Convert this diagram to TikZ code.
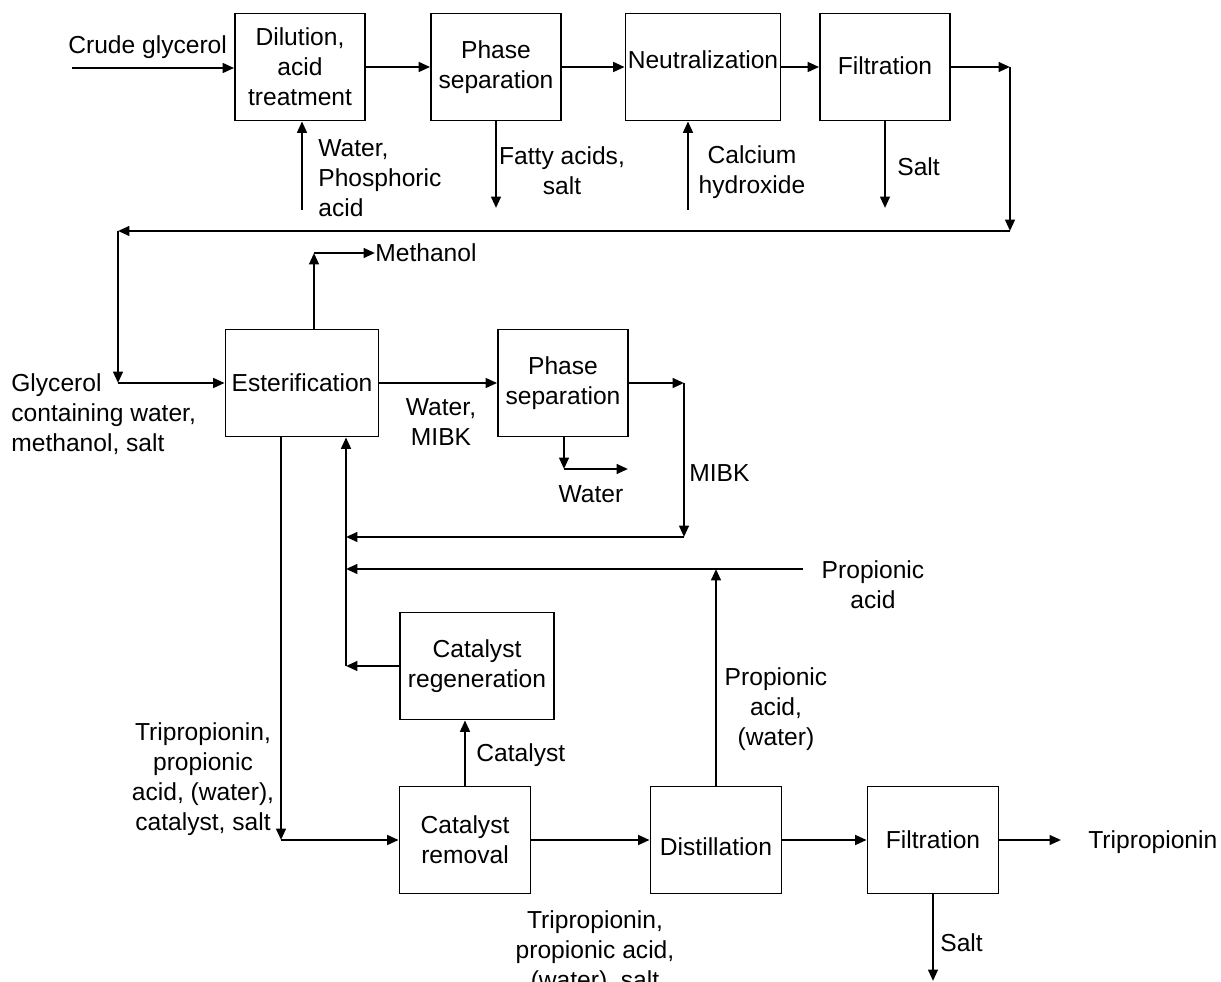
\documentclass[tikz,border=0pt]{standalone}
\usepackage{fontspec}
\setmainfont{Liberation Sans}
\usetikzlibrary{arrows.meta}

\tikzset{
  unit/.style={draw, line width=1pt, minimum height=2.14cm, inner sep=0pt,
    align=center, font=\fontsize{14}{17}\selectfont},
  txt/.style={align=center, inner sep=0pt, font=\fontsize{14}{17}\selectfont},
  flow/.style={->, line width=1.3pt},
}
% shift a box text up or down without changing its size
\newcommand{\lift}[2]{\raisebox{#1}[\height][\depth]{#2}}

\begin{document}
\begin{tikzpicture}[x=0.02cm, y=-0.02cm, >={Triangle[length=6.5pt,width=5.5pt]}]
  \useasboundingbox (0,0) rectangle (1221,982);

  % Pretreatment of the crude glycerol
  \node[unit, minimum width=2.6cm]  (dil)   at (300,67) {Dilution,\\acid\\treatment};
  \node[unit, minimum width=2.6cm]  (sepA)  at (496,67) {Phase\\separation};
  \node[unit, minimum width=3.1cm]  (neut)  at (703,67) {\lift{4pt}{Neutralization}};
  \node[unit, minimum width=2.6cm]  (filtA) at (885,67) {\lift{1pt}{Filtration}};

  \node[txt, anchor=west] (crudelbl) at (68,47) {Crude glycerol};
  \coordinate (crude) at (72,68);
  \draw[flow] (crude) -- (crude -| dil.west);
  \draw[flow] (dil) -- (sepA);
  \draw[flow] (sepA) -- (neut);
  \draw[flow] (neut) -- (filtA);

  % Side streams of the top row
  \coordinate (wat) at (302,210);
  \draw[flow] (wat) -- (wat |- dil.south);
  \node[txt, anchor=west, align=left] (watlbl) at (318,178) {Water,\\Phosphoric\\acid};
  \coordinate (fat) at (496,208);
  \draw[flow] (sepA.south) -- (fat);
  \node[txt] (fatlbl) at (562,171) {Fatty acids,\\salt};
  \coordinate (ca) at (688,210);
  \draw[flow] (ca) -- (ca |- neut.south);
  \node[txt] (calbl) at (752,172) {Calcium\\hydroxide};
  \coordinate (saltA) at (885,208);
  \draw[flow] (filtA.south) -- (saltA);
  \node[txt, anchor=west] (saltAlbl) at (897,167) {Salt};

  % Return of the purified glycerol
  \coordinate (g1) at (1010,67);
  \coordinate (g2) at (1010,231);
  \coordinate (g3) at (118,231);
  \coordinate (g4) at (118,383);

  % Esterification and solvent loop
  \node[unit, minimum width=3.06cm] (ester) at (302,383) {Esterification};
  \node[unit, minimum width=2.6cm]  (sepB)  at (563,383) {Phase\\separation};

  \draw[flow] (filtA.east |- g1) -- (g1);
  \draw[flow] (g1) -- (g2);
  \draw[flow] (g2) -- (g3);
  \draw[flow] (g3) -- (g4);
  \draw[flow] (g4) -- (ester.west |- g4);
  \node[txt, anchor=west, align=left] (glylbl) at (11,414)
    {Glycerol\\containing water,\\methanol, salt};

  \node[txt, anchor=west] (methlbl) at (375,253) {Methanol};
  \coordinate (meth) at (314,253);
  \draw[flow] (meth |- ester.north) -- (meth);
  \draw[flow] (meth) -- (methlbl.west);

  \draw[flow] (ester) -- (sepB);
  \node[txt] (wmlbl) at (441,422) {Water,\\MIBK};

  \coordinate (w1) at (564,469);
  \coordinate (w2) at (628,469);
  \draw[flow] (w1 |- sepB.south) -- (w1);
  \draw[flow] (w1) -- (w2);
  \node[txt] (watBlbl) at (591,494) {Water};

  \coordinate (m1) at (684,383);
  \coordinate (m2) at (684,537);
  \coordinate (m3) at (346,537);
  \draw[flow] (sepB) -- (m1);
  \draw[flow] (m1) -- (m2);
  \draw[flow] (m2) -- (m3);
  \node[txt, anchor=west] (mibklbl) at (689,473) {MIBK};

  % Recycle line into the esterification
  \coordinate (r1) at (346,666);
  \draw[flow] (r1) -- (r1 |- ester.south);
  \coordinate (p1) at (803,569);
  \coordinate (p2) at (346,569);
  \draw[flow] (p1) -- (p2);
  \node[txt] (proplbl) at (873,585) {Propionic\\acid};

  % Catalyst and product work-up
  \node[unit, minimum width=3.08cm] (regen)  at (477,666) {Catalyst\\regeneration};
  \node[unit, minimum width=2.62cm] (catrem) at (465,840) {Catalyst\\removal};
  \node[unit, minimum width=2.62cm] (dist)   at (716,840) {\lift{-4pt}{Distillation}};
  \node[unit, minimum width=2.62cm] (filtB)  at (933,840) {Filtration};

  \draw[flow] (regen.west) -- (r1);
  \draw[flow] (catrem.north) -- (catrem.north |- regen.south);
  \node[txt, anchor=west] (catlbl) at (476,755) {Catalyst};

  \coordinate (p3) at (716,569);
  \draw[flow] (dist.north) -- (p3);
  \node[txt] (pwlbl) at (776,709) {Propionic\\acid,\\(water)};

  \coordinate (t1) at (281,840);
  \draw[flow] (t1 |- ester.south) -- (t1);
  \draw[flow] (t1) -- (catrem.west);
  \node[txt] (trilbl) at (203,779) {Tripropionin,\\propionic\\acid, (water),\\catalyst, salt};

  \draw[flow] (catrem) -- (dist);
  \draw[flow] (dist) -- (filtB);
  \node[txt] (midlbl) at (595,952) {Tripropionin,\\propionic acid,\\(water), salt};

  \node[txt, anchor=west] (prodlbl) at (1088,842) {Tripropionin};
  \coordinate (prod) at (1061,840);
  \draw[flow] (filtB) -- (prod);
  \coordinate (saltB) at (933,981);
  \draw[flow] (filtB.south) -- (saltB);
  \node[txt, anchor=west] (saltBlbl) at (940,943) {Salt};
\end{tikzpicture}
\end{document}
